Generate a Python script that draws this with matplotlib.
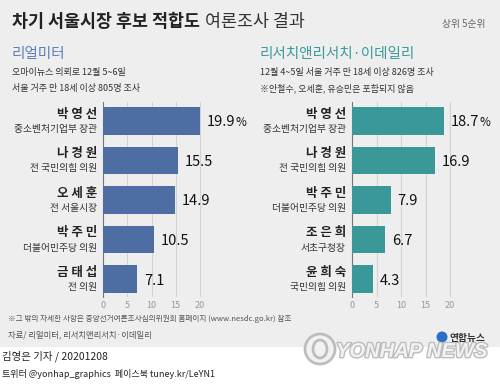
import matplotlib
matplotlib.use("Agg")
import matplotlib.pyplot as plt
from matplotlib.patches import Rectangle, Ellipse
import matplotlib.patheffects as pe

plt.rcParams['font.family'] = ['Noto Sans CJK KR', 'DejaVu Sans']

# ---- data ----
left_names = ['박영선', '나경원', '오세훈', '박주민', '금태섭']
left_roles = ['중소벤처기업부 장관', '전 국민의힘 의원', '전 서울시장', '더불어민주당 의원', '전 의원']
left_values = [19.9, 15.5, 14.9, 10.5, 7.1]

right_names = ['박영선', '나경원', '박주민', '조은희', '윤희숙']
right_roles = ['중소벤처기업부 장관', '전 국민의힘 의원', '더불어민주당 의원', '서초구청장', '국민의힘 의원']
right_values = [18.7, 16.9, 7.9, 6.7, 4.3]

ticks = [0, 5, 10, 15, 20]

W, H = 500, 385
fig = plt.figure(figsize=(W / 100, H / 100), dpi=100)
fig.patch.set_facecolor('#eeeeee')
fig.patches.append(Rectangle((0, 0), 1, 1 - 347 / H, transform=fig.transFigure,
                             facecolor='white', edgecolor='none', zorder=0))

def fx(px):
    return px / W

def fy(py):
    return 1 - py / H

# ---- header ----
t1 = fig.text(fx(12), fy(27), '차기 서울시장 후보 적합도', fontsize=12.5, fontweight='bold',
              color='#222222', va='baseline')
fig.canvas.draw()
bb = t1.get_window_extent()
fig.text(bb.x1 / W + fx(5), fy(27), '여론조사 결과', fontsize=12.5, color='#333333', va='baseline')
fig.text(fx(485), fy(27), '상위 5순위', fontsize=7, color='#666666', style='italic',
         ha='right', va='baseline')

fig.text(fx(12), fy(58), '리얼미터', fontsize=10.5, color='#5b80b6', va='baseline')
fig.text(fx(12), fy(75), '오마이뉴스 의뢰로 12월 5~6일', fontsize=6.5, color='#333333', va='baseline')
fig.text(fx(12), fy(91), '서울 거주 만 18세 이상 805명 조사', fontsize=6.5, color='#333333', va='baseline')

fig.text(fx(260), fy(58), '리서치앤리서치·이데일리', fontsize=10.5, color='#3a9a9a', va='baseline')
fig.text(fx(260), fy(75), '12월 4~5일 서울 거주 만 18세 이상 826명 조사', fontsize=6.5, color='#333333', va='baseline')
fig.text(fx(260), fy(91), '※안철수, 오세훈, 유승민은 포함되지 않음', fontsize=6.5, color='#333333', va='baseline')

def draw_panel(x0_px, unit_px, names, roles, values, color):
    xmax = 22
    ax = fig.add_axes([fx(x0_px), fy(297), xmax * unit_px / W, 195 / H])
    ax.set_facecolor('none')
    ypos = list(range(len(values)))
    ax.barh(ypos, values, height=0.7, color=color, zorder=3)
    ax.set_xlim(0, xmax)
    ax.set_ylim(4.45, -0.48)
    ax.set_xticks(ticks)
    ax.set_xticklabels([str(t) for t in ticks], fontsize=6.5, color='#999999')
    ax.tick_params(axis='x', length=0, pad=3)
    ax.set_yticks([])
    for t in ticks[1:]:
        ax.axvline(t, color='#d2d2d2', lw=0.8, zorder=1)
    for s in ['top', 'right', 'bottom']:
        ax.spines[s].set_visible(False)
    ax.spines['left'].set_color('#777777')
    ax.spines['left'].set_linewidth(0.8)
    for i, (n, r, v) in enumerate(zip(names, roles, values)):
        t = ax.annotate(f'{v:.1f}', (v, i), xytext=(5, -1), textcoords='offset points',
                        fontsize=10.5, color='#111111', va='center', ha='left')
        if i == 0:
            fig.canvas.draw()
            bbt = t.get_window_extent()
            ax.annotate('%', (v, i), xytext=(5 + (bbt.x1 - bbt.x0) * 72 / 100 + 0.5, -1),
                        textcoords='offset points', fontsize=8.5, color='#111111',
                        va='center', ha='left')
        ax.text(-6 / unit_px, i - 0.17, ' '.join(n), fontsize=9,
                fontweight='bold', color='#222222', ha='right', va='center')
        ax.text(-6 / unit_px, i + 0.2, r, fontsize=7, color='#333333', ha='right', va='center')
    return ax

draw_panel(103, 4.85, left_names, left_roles, left_values, '#4e6da3')
draw_panel(352, 4.9, right_names, right_roles, right_values, '#3a9898')

# ---- footer ----
fig.text(fx(8), fy(321), '※그 밖의 자세한 사항은 중앙선거여론조사심의위원회 홈페이지 (www.nesdc.go.kr) 참조',
         fontsize=5.5, color='#555555', style='italic', va='baseline')
fig.text(fx(8), fy(337), '자료/ 리얼미터, 리서치앤리서치·이데일리', fontsize=6, color='#555555',
         style='italic', va='baseline')
fig.text(fx(2), fy(360), '김영은 기자 / 20201208', fontsize=7.5, color='#222222', va='baseline')
fig.text(fx(2), fy(377), '트위터 @yonhap_graphics  페이스북 tuney.kr/LeYN1', fontsize=6.5,
         color='#222222', va='baseline')

# watermark
fig.text(fx(336), fy(357), 'YONHAP NEWS', fontsize=14.5, fontweight='bold', style='italic',
         color='#f2f2f2', va='baseline', family=['Liberation Sans', 'DejaVu Sans'],
         path_effects=[pe.withStroke(linewidth=2, foreground='#bdbdbd')])
fig.patches.append(Ellipse((fx(320), fy(349)), 30 / W, 30 / H, transform=fig.transFigure,
                           facecolor='#f2f2f2', edgecolor='#bdbdbd', lw=2))
fig.patches.append(Ellipse((fx(320), fy(349)), 14 / W, 18 / H, transform=fig.transFigure,
                           facecolor='none', edgecolor='#bdbdbd', lw=2))
fig.patches.append(Ellipse((fx(442), fy(337)), 11 / W, 11 / H, transform=fig.transFigure,
                           facecolor='#2a6fc4', edgecolor='none'))
fig.text(fx(450), fy(341), '연합뉴스', fontsize=7, fontweight='bold', color='#333333', va='baseline')

fig.savefig('out.png', dpi=100, facecolor=fig.get_facecolor())
